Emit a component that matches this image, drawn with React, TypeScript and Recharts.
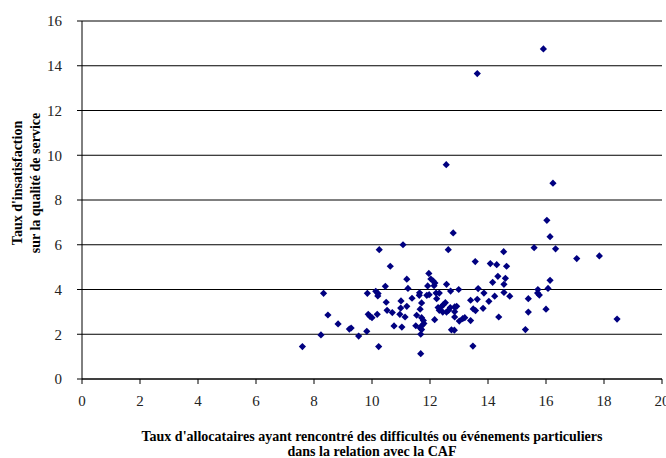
import { ScatterChart, Scatter, XAxis, YAxis, CartesianGrid, Label } from 'recharts';

// share of claimants who met difficulties with the CAF (x) and dissatisfaction rate (y), one entry per fund
const allocataires = [
  7.6, 8.24, 8.33, 8.48, 8.83, 9.22, 9.28, 9.54, 9.82, 9.84,
  9.87, 9.93, 10.0, 10.13, 10.21, 10.2, 10.18, 10.23, 10.25, 10.46,
  10.49, 10.52, 10.63, 10.7, 10.76, 10.96, 10.99, 11.0, 11.03, 11.07,
  11.14, 11.2, 11.2, 11.24, 11.38, 11.51, 11.54, 11.64, 11.63, 11.71,
  11.66, 11.71, 11.77, 11.79, 11.73, 11.66, 11.71, 11.68, 11.68, 11.96,
  12.03, 12.11, 12.17, 11.92, 12.14, 11.89, 11.97, 12.21, 12.32, 12.23,
  12.16, 12.53, 12.46, 12.4, 12.28, 12.32, 12.44, 12.57, 12.64, 12.7,
  12.85, 12.92, 12.85, 12.57, 12.71, 12.99, 12.63, 12.8, 12.56, 12.85,
  13.01, 13.13, 13.2, 12.74, 12.84, 13.4, 13.48, 13.49, 13.57, 13.4,
  13.63, 13.66, 13.86, 13.83, 14.03, 13.56, 13.63, 14.08, 14.3, 14.16,
  14.34, 14.6, 14.55, 14.55, 14.23, 14.75, 14.37, 14.54, 14.64, 15.29,
  15.39, 15.39, 15.59, 15.72, 15.71, 15.77, 16.0, 16.07, 16.14, 16.14,
  16.33, 16.03, 16.24, 15.91, 17.06, 17.84, 18.45,
];

const insatisfaction = [
  1.45, 1.97, 3.83, 2.86, 2.46, 2.23, 2.28, 1.92, 2.13, 3.83,
  2.89, 2.8, 2.74, 3.92, 3.82, 3.71, 2.89, 1.45, 5.78, 4.14,
  3.43, 3.07, 5.04, 2.97, 2.37, 2.89, 3.17, 3.49, 2.32, 6.0,
  2.77, 3.25, 4.46, 4.05, 3.61, 2.38, 2.85, 3.85, 3.74, 3.4,
  3.12, 2.74, 2.62, 2.48, 2.4, 2.28, 2.21, 2.0, 1.13, 4.72,
  4.47, 4.38, 4.29, 4.16, 4.17, 3.74, 3.77, 3.84, 3.84, 3.59,
  2.65, 3.41, 3.32, 3.24, 3.19, 3.07, 2.99, 2.99, 3.07, 3.19,
  3.22, 3.25, 3.01, 4.23, 3.93, 4.0, 5.78, 6.53, 9.58, 2.77,
  2.59, 2.7, 2.74, 2.2, 2.18, 2.61, 1.47, 3.13, 3.06, 3.52,
  3.56, 4.04, 3.84, 3.16, 3.47, 5.25, 13.65, 5.16, 5.11, 4.32,
  4.59, 4.5, 4.23, 3.87, 3.7, 3.7, 2.77, 5.69, 5.04, 2.21,
  3.59, 2.99, 5.87, 4.0, 3.84, 3.75, 3.12, 4.05, 4.41, 6.36,
  5.82, 7.09, 8.75, 14.75, 5.38, 5.5, 2.68,
];

const xTicks = [0, 2, 4, 6, 8, 10, 12, 14, 16, 18, 20];
const yTicks = [0, 2, 4, 6, 8, 10, 12, 14, 16];

const points = allocataires.map((x, i) => ({ x, y: insatisfaction[i] }));

const serif = '"Liberation Serif", "DejaVu Serif", serif';

// small square diamond marker
function Diamond(props: any) {
  const { cx, cy } = props;
  if (cx == null || cy == null) return null;
  const r = 3.6;
  return (
    <polygon
      points={`${cx},${cy - r} ${cx + r},${cy} ${cx},${cy + r} ${cx - r},${cy}`}
      fill="#000080"
    />
  );
}

function XTitle(props: any) {
  const { viewBox } = props;
  const cx = viewBox.x + viewBox.width / 2;
  return (
    <text textAnchor="middle" fontFamily={serif} fontSize={14} fontWeight="bold" fill="#000">
      <tspan x={cx} y={441}>Taux d'allocataires ayant rencontré des difficultés ou événements particuliers</tspan>
      <tspan x={cx} y={456}>dans la relation avec la CAF</tspan>
    </text>
  );
}

function YTitle() {
  const cy = 183;
  return (
    <text transform="rotate(-90)" textAnchor="middle" fontFamily={serif} fontSize={14} fontWeight="bold" fill="#000">
      <tspan x={-cy} y={22}>Taux d'insatisfaction</tspan>
      <tspan x={-cy} y={40}>sur la qualité de service</tspan>
    </text>
  );
}

export default function App() {
  return (
    <div style={{ position: 'absolute', left: 0, top: 0, background: '#fff' }}>
      <ScatterChart width={666} height={458} margin={{ top: 21, right: 4, bottom: 0, left: 0 }}>
        <CartesianGrid vertical={false} stroke="#000" strokeWidth={1} />
        <XAxis
          type="number"
          dataKey="x"
          domain={[0, 20]}
          ticks={xTicks}
          interval={0}
          height={79}
          tickSize={5}
          tickMargin={11}
          axisLine={{ stroke: '#000' }}
          tickLine={{ stroke: '#000' }}
          tick={{ fill: '#222', fontSize: 15, fontFamily: serif }}
        >
          <Label content={XTitle} />
        </XAxis>
        <YAxis
          type="number"
          dataKey="y"
          domain={[0, 16]}
          ticks={yTicks}
          interval={0}
          width={82}
          tickSize={5}
          tickMargin={15}
          axisLine={{ stroke: '#000' }}
          tickLine={{ stroke: '#000' }}
          tick={{ fill: '#222', fontSize: 15, fontFamily: serif }}
        >
          <Label content={YTitle} />
        </YAxis>
        <Scatter data={points} shape={Diamond} isAnimationActive={false} />
      </ScatterChart>
    </div>
  );
}
